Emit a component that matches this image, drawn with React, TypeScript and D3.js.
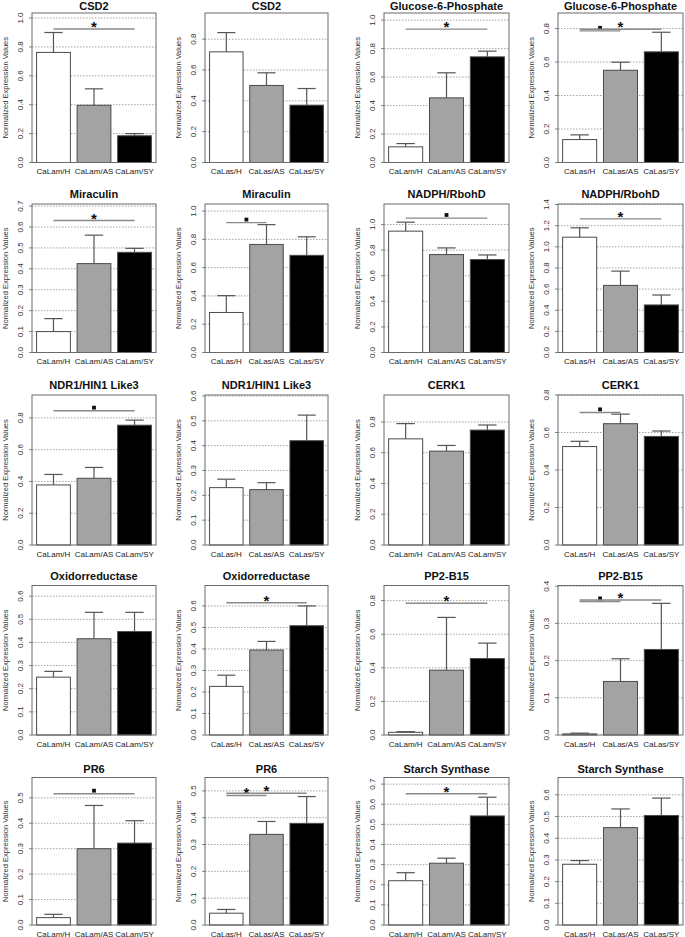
import React from "react";
import * as d3 from "d3";

const genes = [
  "CSD2", "CSD2", "Glucose-6-Phosphate", "Glucose-6-Phosphate",
  "Miraculin", "Miraculin", "NADPH/RbohD", "NADPH/RbohD",
  "NDR1/HIN1 Like3", "NDR1/HIN1 Like3", "CERK1", "CERK1",
  "Oxidorreductase", "Oxidorreductase", "PP2-B15", "PP2-B15",
  "PR6", "PR6", "Starch Synthase", "Starch Synthase",
];
const lamGroups = ["CaLam/H", "CaLam/AS", "CaLam/SY"];
const lasGroups = ["CaLas/H", "CaLas/AS", "CaLas/SY"];

const means = [
  [0.762, 0.396, 0.185],
  [0.718, 0.5, 0.372],
  [0.11, 0.454, 0.742],
  [0.137, 0.551, 0.661],
  [0.1, 0.425, 0.479],
  [0.283, 0.764, 0.687],
  [0.948, 0.765, 0.726],
  [1.091, 0.635, 0.45],
  [0.378, 0.42, 0.754],
  [0.231, 0.223, 0.42],
  [0.69, 0.61, 0.747],
  [0.525, 0.647, 0.579],
  [0.25, 0.416, 0.447],
  [0.226, 0.395, 0.508],
  [0.016, 0.386, 0.455],
  [0.003, 0.144, 0.23],
  [0.029, 0.3, 0.322],
  [0.044, 0.338, 0.379],
  [0.22, 0.307, 0.542],
  [0.28, 0.449, 0.505],
];
const errTops = [
  [0.9, 0.51, 0.2],
  [0.843, 0.582, 0.48],
  [0.133, 0.63, 0.782],
  [0.165, 0.599, 0.778],
  [0.162, 0.561, 0.498],
  [0.402, 0.904, 0.818],
  [1.018, 0.817, 0.762],
  [1.18, 0.77, 0.544],
  [0.444, 0.488, 0.786],
  [0.265, 0.251, 0.523],
  [0.789, 0.647, 0.78],
  [0.553, 0.698, 0.608],
  [0.275, 0.53, 0.53],
  [0.278, 0.435, 0.6],
  [0.02, 0.7, 0.547],
  [0.005, 0.205, 0.354],
  [0.042, 0.47, 0.41],
  [0.058, 0.386, 0.479],
  [0.26, 0.332, 0.635],
  [0.297, 0.535, 0.585],
];
const yMax = [1.035, 0.97, 1.05, 0.893, 0.71, 1.05, 1.16, 1.405, 0.944, 0.604,
  0.975, 0.8, 0.646, 0.695, 0.89, 0.402, 0.58, 0.55, 0.733, 0.68];
const tickMax = [1.0, 0.8, 1.0, 0.8, 0.7, 1.0, 1.0, 1.4, 0.8, 0.6,
  0.8, 0.8, 0.6, 0.6, 0.8, 0.4, 0.5, 0.5, 0.7, 0.6];
const tickStep = [0.2, 0.2, 0.2, 0.2, 0.1, 0.2, 0.2, 0.2, 0.2, 0.1,
  0.2, 0.2, 0.1, 0.1, 0.2, 0.1, 0.1, 0.1, 0.1, 0.1];

// significance brackets (always from group 0)
const sigPanel = [0, 2, 3, 3, 4, 5, 6, 7, 8, 11, 13, 14, 15, 15, 16, 17, 17, 18];
const sigTo = [2, 2, 1, 2, 2, 1, 2, 2, 2, 1, 2, 2, 1, 2, 2, 1, 2, 2];
const sigY = [0.924, 0.937, 0.786, 0.796, 0.631, 0.918, 1.05, 1.264, 0.845, 0.707,
  0.615, 0.784, 0.359, 0.363, 0.516, 0.483, 0.491, 0.652];
const sigMark = ["*", "*", "sq", "*", "*", "sq", "sq", "*", "sq", "sq",
  "*", "*", "sq", "*", "sq", "*", "*", "*"];

// layout
const colLeft = [32, 205, 384, 558];
const colRight = [156, 328, 509, 683];
const rowTop = [13, 204, 395, 585.5, 777.5];
const rowBottom = [162.5, 352.5, 545, 735, 925];
const titleGap = [3, 6, 6, 6, 5];

const barFill = ["#ffffff", "#a3a3a3", "#000000"];
const FONT = "'Liberation Sans', Arial, Helvetica, sans-serif";

function Panel({ idx }: { idx: number }) {
  const row = Math.floor(idx / 4);
  const col = idx % 4;
  const L = colLeft[col], R = colRight[col];
  const T = rowTop[row], B = rowBottom[row];
  const groups = col % 2 === 0 ? lamGroups : lasGroups;
  const x = d3.scaleBand<string>().domain(groups).range([L, R])
    .paddingInner(0.2 / 1.2).paddingOuter(0.136 / 1.2);
  const y = d3.scaleLinear().domain([0, yMax[idx]]).range([B, T]);
  const bw = x.bandwidth();
  const ticks = d3.range(0, tickMax[idx] + 1e-6, tickStep[idx]);
  const fmt = d3.format(".1f");
  const cx = (g: string) => (x(g) as number) + bw / 2;
  const sigs = sigPanel.map((p, i) => i).filter((i) => sigPanel[i] === idx);
  return (
    <g>
      <text x={(L + R) / 2} y={T - titleGap[row]} textAnchor="middle" fontWeight="bold"
        fontSize={11} fontFamily={FONT} fill="#111">{genes[idx]}</text>
      {ticks.filter((t) => t > 0).map((t) => (
        <line key={"g" + t} x1={L} x2={R} y1={y(t)} y2={y(t)} stroke="#9a9a9a"
          strokeWidth={0.9} strokeDasharray="1.5,1.5" />
      ))}
      {ticks.map((t) => (
        <g key={"t" + t}>
          <line x1={L - 3} x2={L} y1={y(t)} y2={y(t)} stroke="#666" strokeWidth={0.8} />
          <text transform={`translate(${L - 9.3},${y(t)}) rotate(-90)`} textAnchor="middle"
            fontSize={8} fontFamily={FONT} fill="#333">{fmt(t)}</text>
        </g>
      ))}
      <text transform={`translate(${L - 24.3},${(T + B) / 2}) rotate(-90)`} textAnchor="middle"
        fontSize={7.5} fontFamily={FONT} fill="#333">Normalized Expression Values</text>
      {groups.map((g, i) => (
        <rect key={g} x={x(g)} y={y(means[idx][i])} width={bw}
          height={B - y(means[idx][i])} fill={barFill[i]} stroke="#4a4a4a" strokeWidth={1} />
      ))}
      {groups.map((g, i) => (
        <g key={"e" + g} stroke="#555" strokeWidth={1.2}>
          <line x1={cx(g)} x2={cx(g)} y1={y(means[idx][i])} y2={y(errTops[idx][i])} />
          <line x1={cx(g) - bw * 0.27} x2={cx(g) + bw * 0.27}
            y1={y(errTops[idx][i])} y2={y(errTops[idx][i])} />
        </g>
      ))}
      <rect x={L} y={T} width={R - L} height={B - T} fill="none" stroke="#6a6a6a" strokeWidth={1} />
      {groups.map((g) => (
        <text key={"l" + g} x={cx(g)} y={B + 11.5} textAnchor="middle" fontSize={8}
          fontFamily={FONT} fill="#222">{g}</text>
      ))}
      {sigs.map((i) => {
        const x1 = cx(groups[0]);
        const x2 = cx(groups[sigTo[i]]);
        const yy = y(sigY[i]);
        const mx = (x1 + x2) / 2;
        return (
          <g key={"s" + i}>
            <line x1={x1} x2={x2} y1={yy} y2={yy} stroke="#8a8a8a" strokeWidth={1.4} />
            {sigMark[i] === "*" ? (
              <text x={mx} y={yy + 3} textAnchor="middle" fontSize={15} fontWeight="bold"
                fontFamily={FONT} fill="#111">*</text>
            ) : (
              <rect x={mx - 1.9} y={yy - 5} width={3.8} height={3.8} fill="#111" />
            )}
          </g>
        );
      })}
    </g>
  );
}

export default function App() {
  return (
    <svg width={685} height={937} style={{ position: "absolute", left: 0, top: 0, background: "#fff" }}>
      <rect x={0} y={0} width={685} height={937} fill="#fff" />
      {genes.map((_, i) => <Panel key={i} idx={i} />)}
    </svg>
  );
}
